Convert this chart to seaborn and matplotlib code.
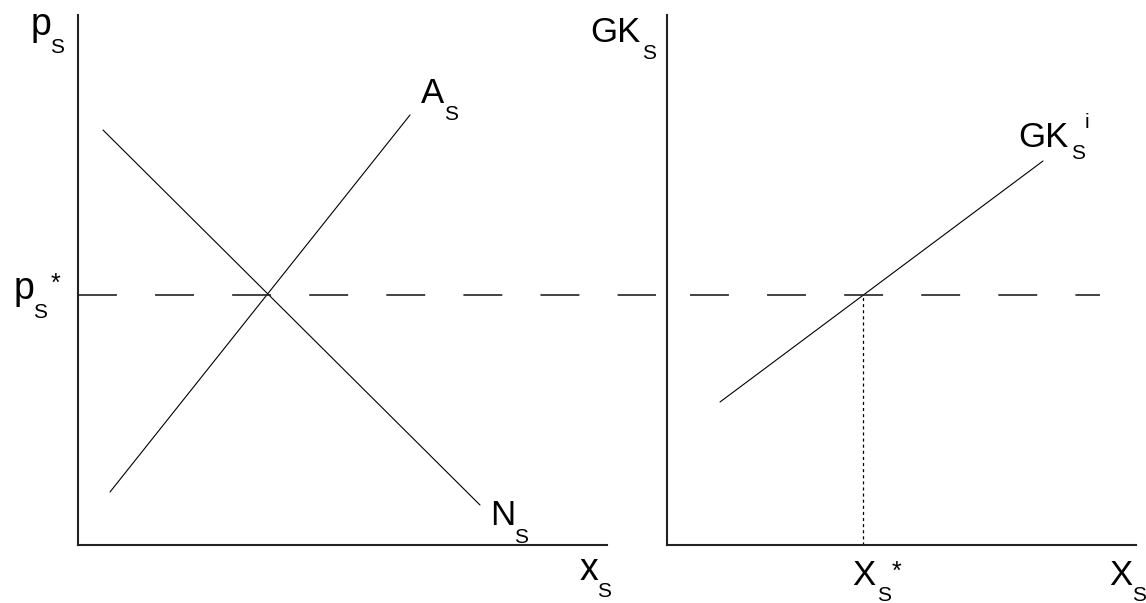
"""Market diagram: supply/demand (left) and marginal cost (right)."""

import matplotlib.pyplot as plt
import seaborn as sns

plt.switch_backend("Agg")

# left panel: demand N_S and supply A_S (units = pixels from origin)
demand_x = [25, 402]
demand_y = [415, 40]
supply_x = [32, 332]
supply_y = [53, 430]
p_star = 250
left_dash_span = [0, 578]

# right panel: marginal cost GK_S^i
gk_x = [53, 376]
gk_y = [143, 384]
x_star = 196
right_dash_span = [23, 433]

W, H = 1146, 603


def px_axes(fig, left, right, top, bottom):
    return fig.add_axes([left / W, 1 - bottom / H, (right - left) / W, (bottom - top) / H])


def label(fig, x, y, s, size, va="baseline"):
    fig.text(x / W, 1 - y / H, s, fontsize=size, ha="left", va=va, color="black")


def main() -> None:
    sns.set_style("white")
    plt.rcParams["font.family"] = ["Liberation Sans", "DejaVu Sans"]
    plt.rcParams["lines.scale_dashes"] = False

    fig = plt.figure(figsize=(W / 100, H / 100), dpi=100)

    ax_l = px_axes(fig, 78, 660, 15, 545)
    ax_r = px_axes(fig, 667, 1146, 15, 545)

    for ax, xmax, xend in [(ax_l, 582, 529), (ax_r, 479, 469)]:
        ax.set_xlim(0, xmax)
        ax.set_ylim(0, 530)
        ax.set_xticks([])
        ax.set_yticks([])
        ax.patch.set_alpha(0)
        for side in ["top", "right"]:
            ax.spines[side].set_visible(False)
        for side in ["left", "bottom"]:
            ax.spines[side].set_color("#222222")
            ax.spines[side].set_linewidth(1.5)
        ax.spines["bottom"].set_bounds(0, xend)

    sns.lineplot(x=demand_x, y=demand_y, ax=ax_l, color="black", lw=0.8)
    sns.lineplot(x=supply_x, y=supply_y, ax=ax_l, color="black", lw=0.8)
    ax_l.hlines(p_star, *left_dash_span, color="#222222", lw=1.2,
                linestyles=(0, (28, 27.5)), clip_on=False)

    sns.lineplot(x=gk_x, y=gk_y, ax=ax_r, color="black", lw=0.8)
    ax_r.hlines(p_star, *right_dash_span, color="#222222", lw=1.2,
                linestyles=(0, (28, 27.5)), clip_on=False)
    ax_r.vlines(x_star, 0, p_star, color="black", lw=0.9,
                linestyles=(0, (2.2, 2.2)))

    main_size, lower_size, sub_size = 25, 27, 15

    # p_S
    label(fig, 31, 35, "p", lower_size)
    label(fig, 50, 53, "S", sub_size)
    # p_S*
    label(fig, 14, 299, "p", lower_size)
    label(fig, 33, 318, "S", sub_size)
    label(fig, 51, 272, "*", 18, va="top")
    # A_S
    label(fig, 421, 103, "A", main_size)
    label(fig, 444, 120, "S", sub_size)
    # N_S
    label(fig, 490, 525, "N", main_size)
    label(fig, 514, 543, "S", sub_size)
    # x_S
    label(fig, 580, 580, "x", lower_size)
    label(fig, 597, 597, "S", sub_size)
    # GK_S
    label(fig, 590, 42, "GK", main_size)
    label(fig, 642, 59, "S", sub_size)
    # GK_S^i
    label(fig, 1018, 147, "GK", main_size)
    label(fig, 1071, 159, "S", sub_size)
    label(fig, 1085, 128, "i", sub_size)
    # X_S*
    label(fig, 852, 585, "X", main_size)
    label(fig, 877, 601, "S", sub_size)
    label(fig, 892, 560, "*", 18, va="top")
    # X_S
    label(fig, 1109, 585, "X", main_size)
    label(fig, 1132, 601, "S", sub_size)

    fig.savefig("out.png", dpi=100)
    plt.close(fig)


if __name__ == "__main__":
    main()
